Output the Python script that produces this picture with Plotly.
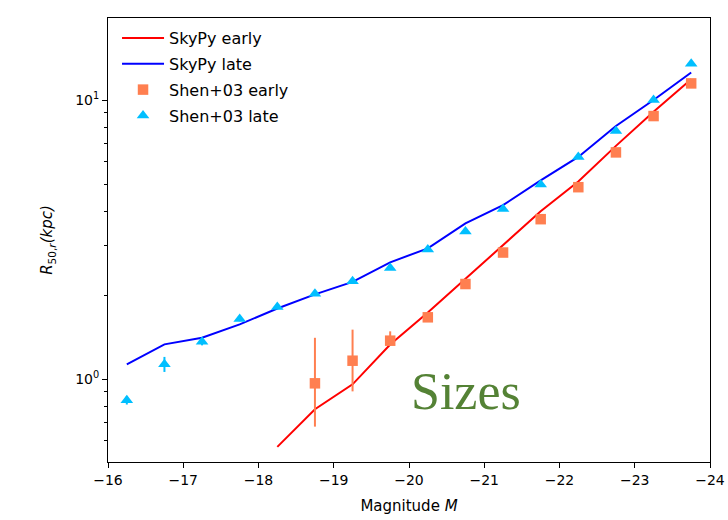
import plotly.graph_objects as go

# Absolute magnitude bins
mag_skypy_early = [-18.25, -18.75, -19.25, -19.75, -20.25, -20.75, -21.25, -21.75,
                   -22.25, -22.75, -23.25, -23.75]
mag_skypy_late = [-16.25, -16.75, -17.25, -17.75, -18.25, -18.75, -19.25, -19.75,
                  -20.25, -20.75, -21.25, -21.75, -22.25, -22.75, -23.25, -23.75]
mag_shen_early = [-18.75, -19.25, -19.75, -20.25, -20.75, -21.25, -21.75,
                  -22.25, -22.75, -23.25, -23.75]
mag_shen_late = mag_skypy_late

# Median half-light radii (kpc)
r50_skypy_early = [0.571, 0.779, 0.957, 1.33, 1.73, 2.29, 3.02, 3.99,
                   5.10, 6.85, 9.08, 11.86]
r50_skypy_late = [1.129, 1.331, 1.406, 1.57, 1.79, 2.01, 2.23, 2.62,
                  2.94, 3.61, 4.20, 5.15, 6.25, 8.07, 10.0, 12.55]
r50_shen_early = [0.965, 1.163, 1.372, 1.664, 2.19, 2.84, 3.74, 4.87, 6.49, 8.76, 11.47]
r50_shen_late = [0.84, 1.13, 1.36, 1.64, 1.81, 2.02, 2.24, 2.50,
                 2.91, 3.38, 4.07, 4.98, 6.25, 7.74, 10.0, 13.5]

# Shen et al. (2003) uncertainties (kpc)
err_shen_early_up = [0.44, 0.34, 0.11, 0.04, 0.05, 0.06, 0.08, 0.10, 0.12, 0.15, 0.20]
err_shen_early_dn = [0.29, 0.26, 0.05, 0.04, 0.05, 0.06, 0.08, 0.10, 0.12, 0.15, 0.20]
err_shen_late = [0.03, 0.07, 0.04, 0.03, 0.02, 0.02, 0.02, 0.03,
                 0.03, 0.03, 0.04, 0.05, 0.06, 0.08, 0.10, 0.15]

x_ticks = [-16, -17, -18, -19, -20, -21, -22, -23, -24]
x_tick_text = ["\u2212" + str(abs(v)) for v in x_ticks]
y_ticks = [1, 10]
y_tick_text = ["10<sup>0</sup>", "10<sup>1</sup>"]
y_minor = [0.6, 0.7, 0.8, 0.9, 2, 3, 4, 5, 6, 7, 8, 9]

FONT = "DejaVu Sans"

fig = go.Figure()
fig.add_trace(go.Scatter(
    x=mag_skypy_early, y=r50_skypy_early, mode="lines", name="SkyPy early",
    line=dict(color="#ff0000", width=2), legendgroup="a"))
fig.add_trace(go.Scatter(
    x=mag_skypy_late, y=r50_skypy_late, mode="lines", name="SkyPy late",
    line=dict(color="#0000ff", width=2), legendgroup="b"))
fig.add_trace(go.Scatter(
    x=mag_shen_early, y=r50_shen_early, mode="markers", name="Shen+03 early",
    marker=dict(symbol="square", size=10.5, color="#ff7f50"),
    error_y=dict(type="data", symmetric=False, array=err_shen_early_up,
                 arrayminus=err_shen_early_dn, color="#ff7f50", thickness=2, width=0),
    legendgroup="c"))
fig.add_trace(go.Scatter(
    x=mag_shen_late, y=r50_shen_late, mode="markers", name="Shen+03 late",
    marker=dict(symbol="triangle-up", size=11, color="#00bfff"),
    error_y=dict(type="data", array=err_shen_late, color="#00bfff", thickness=2, width=0),
    legendgroup="d"))

axis_common = dict(
    showgrid=False, zeroline=False, showline=True, linecolor="black", linewidth=1,
    mirror=True, ticks="outside", ticklen=5, tickwidth=1, tickcolor="black",
    tickfont=dict(family=FONT, size=14, color="black"), automargin=False,
)

fig.update_layout(
    width=728, height=520,
    margin=dict(l=108, r=18, t=18, b=58),
    paper_bgcolor="white", plot_bgcolor="white",
    font=dict(family=FONT, color="black"),
    xaxis=dict(
        range=[-16, -24], tickmode="array", tickvals=x_ticks, ticktext=x_tick_text,
        title=dict(text="Magnitude <i>M</i>", font=dict(family=FONT, size=15), standoff=13),
        **axis_common),
    yaxis=dict(
        type="log", range=[-0.2975, 1.294], tickmode="array", tickvals=y_ticks,
        ticktext=y_tick_text,
        minor=dict(tickmode="array", tickvals=y_minor, ticks="outside", ticklen=3,
                   tickwidth=1, tickcolor="black", showgrid=False),
        title=dict(text="<i>R</i><sub>50,<i>r</i></sub><i>(kpc)</i>",
                   font=dict(family=FONT, size=15), standoff=18),
        **axis_common),
    legend=dict(
        x=0.015, y=0.993, xanchor="left", yanchor="top",
        bgcolor="rgba(0,0,0,0)", borderwidth=0, itemwidth=42,
        font=dict(family=FONT, size=16, color="black"),
        traceorder="grouped", tracegroupgap=2),
    showlegend=True,
)

fig.add_annotation(
    text="Sizes", xref="paper", yref="paper", x=0.595, y=0.158,
    xanchor="center", yanchor="middle", showarrow=False,
    font=dict(family="Liberation Serif", size=52, color="#548235"))

fig.write_html("out.html")
